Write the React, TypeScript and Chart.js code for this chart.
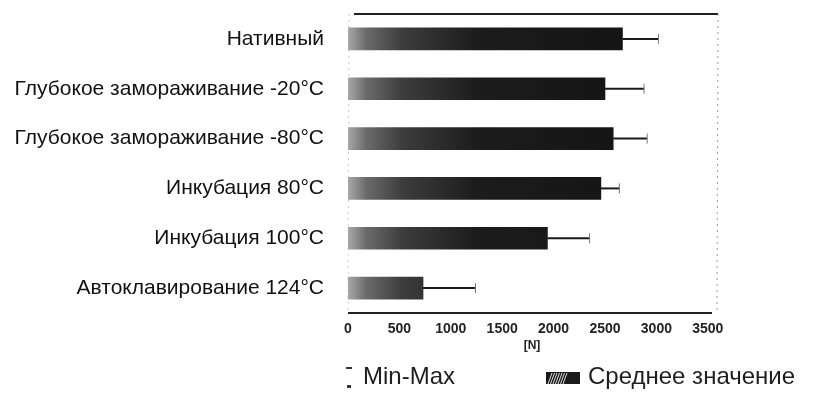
import React, { useEffect, useRef } from "react";
import { Chart, registerables } from "chart.js";

Chart.register(...registerables);

const categories = [
  "Нативный",
  "Глубокое замораживание -20°C",
  "Глубокое замораживание -80°C",
  "Инкубация 80°C",
  "Инкубация 100°C",
  "Автоклавирование 124°C",
];
const meanValues = [2670, 2500, 2580, 2460, 1940, 730];
const maxValues = [3020, 2880, 2910, 2640, 2350, 1240];
const xTicks = [0, 500, 1000, 1500, 2000, 2500, 3000, 3500];
const axisTitle = "[N]";
const legendLabels = ["Min-Max", "Среднее значение"];

const FONT = "'Liberation Sans', Arial, sans-serif";

const errorBarPlugin = {
  id: "errorBars",
  afterDatasetsDraw(chart: any) {
    const ctx = chart.ctx;
    const meta = chart.getDatasetMeta(0);
    const xs = chart.scales.x;
    ctx.save();
    meta.data.forEach((el: any, i: number) => {
      const xEnd = xs.getPixelForValue(maxValues[i]);
      ctx.strokeStyle = "#1a1a1a";
      ctx.lineWidth = 2;
      ctx.beginPath();
      ctx.moveTo(el.x, el.y);
      ctx.lineTo(xEnd, el.y);
      ctx.stroke();
      ctx.strokeStyle = "#777";
      ctx.lineWidth = 1;
      ctx.beginPath();
      ctx.moveTo(xEnd, el.y - 5);
      ctx.lineTo(xEnd, el.y + 5);
      ctx.stroke();
    });
    ctx.restore();
  },
};

const framePlugin = {
  id: "frame",
  beforeDatasetsDraw(chart: any) {
    const { ctx, chartArea } = chart;
    const { left, right, top, bottom } = chartArea;
    ctx.save();
    ctx.strokeStyle = "#222";
    ctx.lineWidth = 2;
    ctx.beginPath();
    ctx.moveTo(left + 6, top);
    ctx.lineTo(right + 2, top);
    ctx.stroke();
    ctx.beginPath();
    ctx.moveTo(left, bottom);
    ctx.lineTo(right - 4, bottom);
    ctx.stroke();
    ctx.setLineDash([2, 4]);
    ctx.lineWidth = 1;
    ctx.strokeStyle = "#999";
    ctx.beginPath();
    ctx.moveTo(right + 2, top);
    ctx.lineTo(right + 1, bottom);
    ctx.stroke();
    ctx.strokeStyle = "#ccc";
    ctx.beginPath();
    ctx.moveTo(left + 1, top);
    ctx.lineTo(left, bottom);
    ctx.stroke();
    ctx.restore();
  },
};

const legendPlugin = {
  id: "customLegend",
  afterDraw(chart: any) {
    const ctx = chart.ctx;
    const y = 377;
    ctx.save();
    ctx.fillStyle = "#333";
    ctx.fillRect(346, 367, 6, 2);
    ctx.fillRect(347, 385, 4, 3);
    ctx.font = `24px ${FONT}`;
    ctx.textBaseline = "middle";
    ctx.textAlign = "left";
    ctx.fillStyle = "#1e1e1e";
    ctx.fillText(legendLabels[0], 363, y);
    const ix = 546, iy = 372, iw = 34, ih = 12;
    ctx.fillStyle = "#1a1a1a";
    ctx.fillRect(ix, iy, iw, ih);
    ctx.strokeStyle = "#ddd";
    ctx.lineWidth = 1;
    ctx.beginPath();
    for (let k = 0; k < 7; k++) {
      const sx = ix + 2 + k * 2.5;
      ctx.moveTo(sx, iy + ih);
      ctx.lineTo(sx + 4, iy + 1);
    }
    ctx.stroke();
    ctx.fillStyle = "#1e1e1e";
    ctx.fillText(legendLabels[1], 588, y);
    ctx.restore();
  },
};

export default function App() {
  const ref = useRef<HTMLCanvasElement | null>(null);

  useEffect(() => {
    if (!ref.current) return;
    const chart = new Chart(ref.current, {
      type: "bar",
      data: {
        labels: categories,
        datasets: [
          {
            label: legendLabels[1],
            data: meanValues,
            barThickness: 22,
            borderWidth: 0,
            backgroundColor: (c: any) => {
              const ch = c.chart;
              const area = ch.chartArea;
              if (!area) return "#111";
              const g = ch.ctx.createLinearGradient(area.left, 0, area.right, 0);
              g.addColorStop(0, "#a8a8a8");
              g.addColorStop(0.05, "#6a6a6a");
              g.addColorStop(0.15, "#3c3c3c");
              g.addColorStop(0.35, "#1c1c1c");
              g.addColorStop(1, "#101010");
              return g;
            },
          },
        ],
      },
      options: {
        indexAxis: "y",
        animation: false,
        responsive: false,
        maintainAspectRatio: false,
        layout: { padding: { top: 14, right: 97, bottom: 39, left: 0 } },
        plugins: {
          legend: { display: false },
          tooltip: { enabled: false },
        },
        scales: {
          x: {
            type: "linear",
            min: 0,
            max: 3580,
            grid: { display: false, drawTicks: false },
            border: { display: false },
            afterBuildTicks: (s: any) => {
              s.ticks = xTicks.map((v) => ({ value: v }));
            },
            afterFit: (s: any) => {
              s.height = 42;
              s.paddingLeft = 0;
              s.paddingRight = 0;
            },
            ticks: {
              autoSkip: false,
              maxRotation: 0,
              padding: 8,
              color: "#222",
              font: { family: FONT, size: 14, weight: "bold" },
              callback: (v: any) => String(v),
            },
            title: {
              display: true,
              text: axisTitle,
              color: "#222",
              font: { family: FONT, size: 12, weight: "bold" },
              padding: { top: 0, bottom: 2 },
            },
          },
          y: {
            type: "category",
            grid: { display: false, drawTicks: false },
            border: { display: false },
            afterFit: (s: any) => {
              s.width = 348;
              s.paddingTop = 0;
              s.paddingBottom = 0;
            },
            ticks: {
              padding: 24,
              color: "#111",
              font: { family: FONT, size: 21 },
            },
          },
        },
      },
      plugins: [framePlugin, errorBarPlugin, legendPlugin],
    } as any);
    return () => chart.destroy();
  }, []);

  return (
    <div style={{ position: "fixed", left: 0, top: 0, width: 813, height: 394, background: "#fff" }}>
      <canvas ref={ref} width={813} height={394} style={{ display: "block" }} />
    </div>
  );
}
